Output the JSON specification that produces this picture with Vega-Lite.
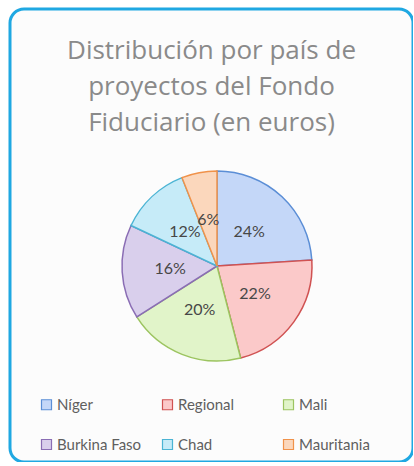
{
  "$schema": "https://vega.github.io/schema/vega-lite/v6.json",
  "autosize": "none",
  "padding": {"left": 10, "top": 9, "right": 0, "bottom": 0},
  "width": 403,
  "height": 453,
  "background": "white",
  "view": {"stroke": "#1fa8e2", "strokeWidth": 3, "cornerRadius": 14, "fill": "#fcfcfc"},
  "config": {
    "font": "Lato"
  },
  "title": {
    "text": ["Distribución por país de", "proyectos del Fondo", "Fiduciario (en euros)"],
    "orient": "top",
    "anchor": "middle",
    "offset": -127,
    "fontSize": 26,
    "font": "Open Sans",
    "fontWeight": "normal",
    "color": "#8a8a8a",
    "lineHeight": 36
  },
  "data": {
    "values": [
      {"pais": "Níger", "pct": 24, "orden": 1},
      {"pais": "Regional", "pct": 22, "orden": 2},
      {"pais": "Mali", "pct": 20, "orden": 3},
      {"pais": "Burkina Faso", "pct": 16, "orden": 4},
      {"pais": "Chad", "pct": 12, "orden": 5},
      {"pais": "Mauritania", "pct": 6, "orden": 6}
    ]
  },
  "encoding": {
    "theta": {"field": "pct", "type": "quantitative", "stack": true},
    "order": {"field": "orden", "type": "quantitative"}
  },
  "layer": [
    {
      "mark": {"type": "arc", "outerRadius": 95, "strokeWidth": 1.5, "xOffset": 5.5, "yOffset": 30.5},
      "encoding": {
        "color": {
          "field": "pais",
          "type": "nominal",
          "sort": ["Níger", "Regional", "Mali", "Burkina Faso", "Chad", "Mauritania"],
          "scale": {
            "domain": ["Níger", "Regional", "Mali", "Burkina Faso", "Chad", "Mauritania"],
            "range": ["#c4d7f8", "#fbc9c9", "#e1f4c9", "#d9cfec", "#c6ebf8", "#fbd7bc"]
          },
          "legend": {
            "orient": "none",
            "legendX": 29,
            "legendY": 388,
            "direction": "horizontal",
            "columns": 3,
            "gridAlign": "all",
            "columnPadding": 18,
            "rowPadding": 24,
            "title": null,
            "symbolType": "square",
            "symbolSize": 100,
            "symbolStrokeWidth": 1.2,
            "labelFontSize": 15,
            "labelColor": "#5f5f5f",
            "labelFont": "Lato",
            "labelOffset": 3,
            "labelLimit": 200
          }
        },
        "stroke": {
          "field": "pais",
          "type": "nominal",
          "scale": {
            "domain": ["Níger", "Regional", "Mali", "Burkina Faso", "Chad", "Mauritania"],
            "range": ["#5b8ed6", "#d05252", "#9cc460", "#8a6db4", "#4bb4d4", "#f0924a"]
          },
          "legend": null
        }
      }
    },
    {
      "mark": {"type": "text", "radius": 47, "fontSize": 16, "color": "#474747", "font": "Lato", "xOffset": 5.5, "yOffset": 30.5},
      "encoding": {
        "text": {"field": "label", "type": "nominal"}
      },
      "transform": [{"calculate": "datum.pct + '%'", "as": "label"}]
    }
  ]
}
